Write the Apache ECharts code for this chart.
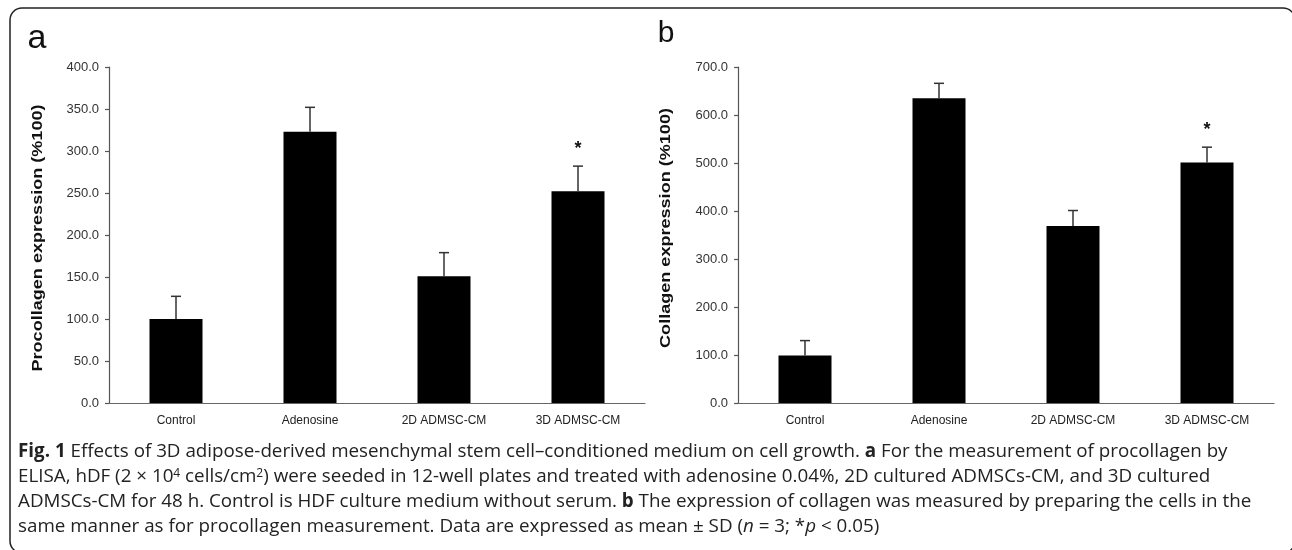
<!DOCTYPE html>
<html>
<head>
<meta charset="utf-8">
<script src="https://cdn.jsdelivr.net/npm/echarts@6/dist/echarts.min.js"></script>
<style>
html,body{margin:0;padding:0;background:#fff;}
#chart{width:1292px;height:550px;}
</style>
</head>
<body>
<div id="chart"></div>
<script>
// ---- data ----
const categories = ['Control', 'Adenosine', '2D ADMSC-CM', '3D ADMSC-CM'];
const procollagenMean = [100, 323, 151, 252];
const procollagenSD = [27, 29, 28, 30];
const collagenMean = [99, 635, 369, 501];
const collagenSD = [31, 31, 32, 32];
const significant = [false, false, false, true];
const procollagenAxis = { min: 0, max: 400, interval: 50 };
const collagenAxis = { min: 0, max: 700, interval: 100 };
const panelLabels = ['a', 'b'];
const yTitles = ['Procollagen expression (%100)', 'Collagen expression (%100)'];
const captionLines = [
  '{b|Fig. 1} Effects of 3D adipose-derived mesenchymal stem cell–conditioned medium on cell growth. {b|a} For the measurement of procollagen by',
  'ELISA, hDF (2 × 10{sup|4} cells/cm{sup|2}) were seeded in 12-well plates and treated with adenosine 0.04%, 2D cultured ADMSCs-CM, and 3D cultured',
  'ADMSCs-CM for 48 h. Control is HDF culture medium without serum. {b|b} The expression of collagen was measured by preparing the cells in the',
  'same manner as for procollagen measurement. Data are expressed as mean ± SD ({i|n} = 3; *{i|p} < 0.05)'
];

const chart = echarts.init(document.getElementById('chart'), null, { renderer: 'canvas' });
const FONT = 'Liberation Sans, Arial, sans-serif';
const CAPFONT = 'Open Sans, Noto Sans, sans-serif';
const CAPSIZE = 18.8;

function errData(mean, sd) {
  return categories.map((c, i) => [i, mean[i], mean[i] + sd[i], significant[i] ? 1 : 0]);
}

function renderErr(params, api) {
  const base = api.coord([api.value(0), api.value(1)]);
  const top = api.coord([api.value(0), api.value(2)]);
  const x = base[0];
  const children = [
    { type: 'line', shape: { x1: x, y1: base[1], x2: x, y2: top[1] }, style: { stroke: '#333', lineWidth: 1.5 } },
    { type: 'line', shape: { x1: x - 5, y1: top[1], x2: x + 5, y2: top[1] }, style: { stroke: '#333', lineWidth: 1.5 } }
  ];
  if (api.value(3) === 1) {
    children.push({ type: 'text', x: x, y: top[1] - 17, style: { text: '*', fontSize: 18, fontWeight: 'bold', fontFamily: FONT, fill: '#111', align: 'center', verticalAlign: 'middle' } });
  }
  return { type: 'group', children: children };
}

function yAxisCfg(idx, ax) {
  return {
    gridIndex: idx, type: 'value', min: ax.min, max: ax.max, interval: ax.interval,
    axisLine: { show: true, lineStyle: { color: '#555', width: 1.2 } },
    axisTick: { show: true, length: 4, lineStyle: { color: '#555', width: 1.2 } },
    splitLine: { show: false },
    axisLabel: { formatter: v => v.toFixed(1), fontSize: 13, color: '#333', margin: 10, fontFamily: FONT }
  };
}
function xAxisCfg(idx) {
  return {
    gridIndex: idx, type: 'category', data: categories,
    axisTick: { show: false },
    axisLine: { show: true, lineStyle: { color: '#666', width: 1.2 } },
    axisLabel: { fontSize: 12, color: '#222', margin: 12, interval: 0, fontFamily: FONT }
  };
}

const graphics = [
  { type: 'rect', shape: { x: 10, y: 8, width: 1285, height: 545, r: 12 }, style: { fill: 'none', stroke: '#222', lineWidth: 1.5 }, silent: true },
  { type: 'text', x: 37, y: 39, style: { text: panelLabels[0], fontSize: 34, fontFamily: FONT, fill: '#111', align: 'center', verticalAlign: 'middle' } },
  { type: 'text', x: 666, y: 34, style: { text: panelLabels[1], fontSize: 30, fontFamily: FONT, fill: '#111', align: 'center', verticalAlign: 'middle' } },
  { type: 'text', x: 38, y: 238, rotation: Math.PI / 2, scaleX: 1.29, style: { text: yTitles[0], fontSize: 14, fontWeight: 'bold', fontFamily: FONT, fill: '#111', align: 'center', verticalAlign: 'middle' } },
  { type: 'text', x: 666, y: 228, rotation: Math.PI / 2, scaleX: 1.29, style: { text: yTitles[1], fontSize: 14, fontWeight: 'bold', fontFamily: FONT, fill: '#111', align: 'center', verticalAlign: 'middle' } }
];
const capY = [452, 477, 502, 527];
captionLines.forEach((t, i) => {
  graphics.push({
    type: 'text', x: 18, y: capY[i],
    style: {
      text: t, fontSize: CAPSIZE, fontFamily: CAPFONT, fill: '#222', align: 'left', verticalAlign: 'middle',
      rich: {
        b: { fontSize: CAPSIZE, fontFamily: CAPFONT, fontWeight: 'bold', fill: '#222' },
        i: { fontSize: CAPSIZE, fontFamily: CAPFONT, fontStyle: 'italic', fill: '#222' },
        sup: { fontSize: 12, fontFamily: CAPFONT, fill: '#222', verticalAlign: 'top' }
      }
    }
  });
});

const option = {
  animation: false,
  backgroundColor: '#fff',
  grid: [
    { left: 109, top: 67, width: 536, height: 336 },
    { left: 738, top: 67, width: 536, height: 336 }
  ],
  xAxis: [xAxisCfg(0), xAxisCfg(1)],
  yAxis: [yAxisCfg(0, procollagenAxis), yAxisCfg(1, collagenAxis)],
  series: [
    { type: 'bar', xAxisIndex: 0, yAxisIndex: 0, data: procollagenMean, barWidth: 53, itemStyle: { color: '#000' } },
    { type: 'custom', xAxisIndex: 0, yAxisIndex: 0, data: errData(procollagenMean, procollagenSD), renderItem: renderErr, z: 3 },
    { type: 'bar', xAxisIndex: 1, yAxisIndex: 1, data: collagenMean, barWidth: 53, itemStyle: { color: '#000' } },
    { type: 'custom', xAxisIndex: 1, yAxisIndex: 1, data: errData(collagenMean, collagenSD), renderItem: renderErr, z: 3 }
  ],
  graphic: graphics
};
chart.setOption(option);
</script>
</body>
</html>
